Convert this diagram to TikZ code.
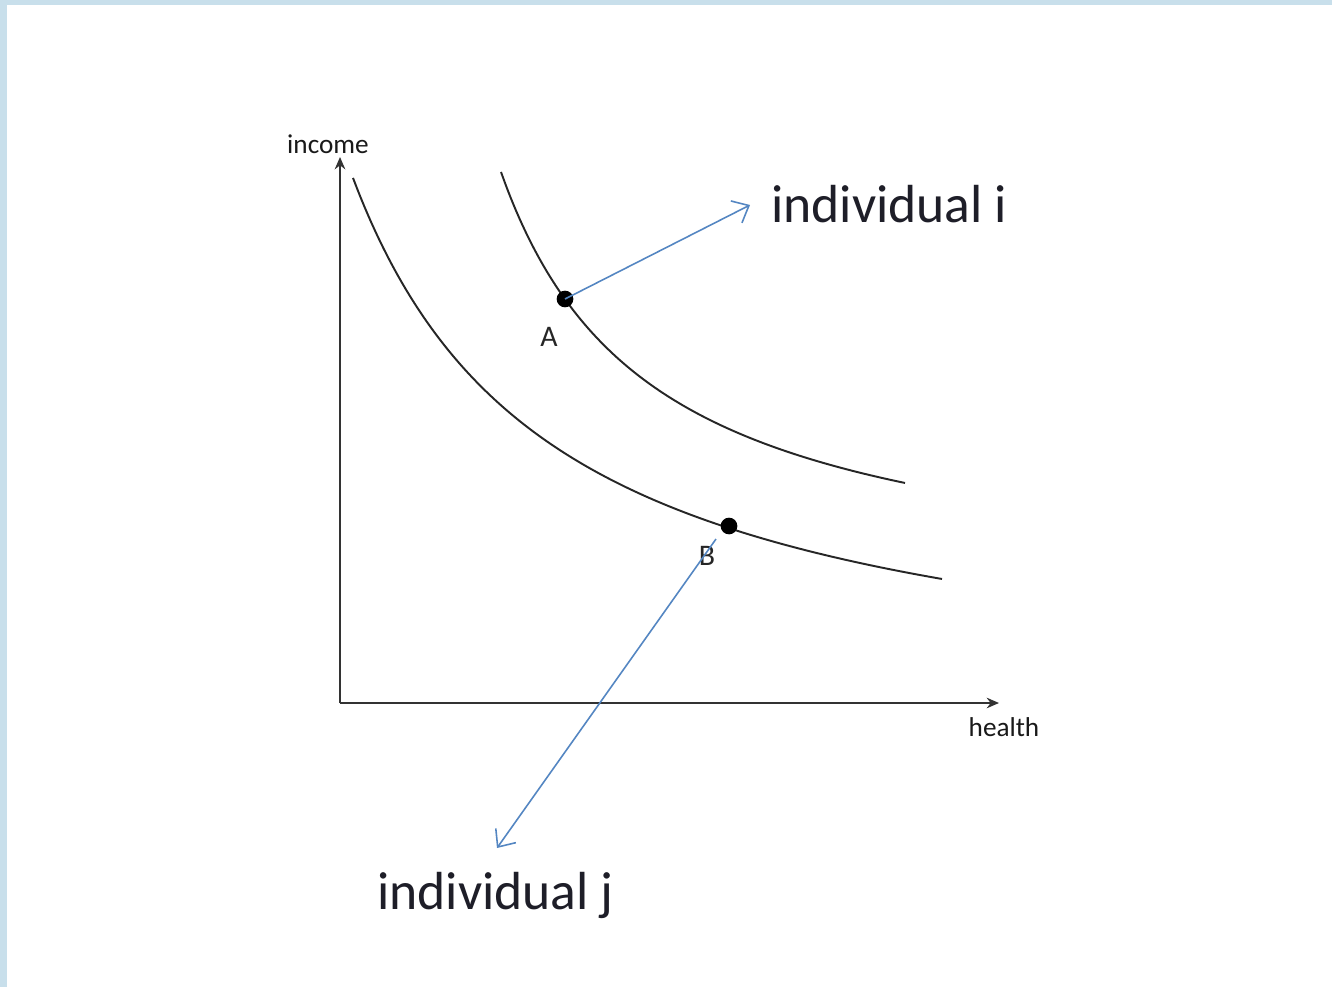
\documentclass[tikz,border=0pt]{standalone}
\usepackage{fontspec}
\setmainfont{Carlito}
\usetikzlibrary{arrows.meta}
\definecolor{frameblue}{RGB}{200,223,235}
\definecolor{arrowblue}{RGB}{84,134,194}
\definecolor{inktext}{RGB}{30,30,40}
\tikzset{
  axis/.style={line width=1.5pt, black!80, -{Stealth[length=7pt,width=6pt]}},
  icurve/.style={line width=1.1pt, black!85},
  dotpt/.style={circle, fill=black, inner sep=0pt, minimum size=9.5pt},
  bluearrow/.style={line width=0.9pt, arrowblue, -{Straight Barb[length=8pt,width=14pt,line width=0.9pt]}},
  axlabel/.style={font=\fontsize{15.5}{18}\selectfont, text=black!90, inner sep=0pt},
  ptlabel/.style={font=\fontsize{17}{20}\selectfont, text=black!85, inner sep=0pt},
  biglabel/.style={font=\fontsize{30.5}{36}\selectfont, text=inktext, inner sep=0pt, anchor=base west}
}
\begin{document}
\begin{tikzpicture}[x=0.02cm, y=-0.02cm]
\useasboundingbox (0,0) rectangle (1332,987);
\fill[white] (0,0) rectangle (1332,987);
\fill[frameblue] (0,0) rectangle (1332,5);
\fill[frameblue] (0,0) rectangle (7,987);

% axes
\coordinate (O) at (340,703);
\coordinate (ytop) at (340,157);
\coordinate (xend) at (999,703);
\draw[axis] (O) -- (ytop);
\draw[axis] (O) -- (xend);
\node[axlabel] (income) at (328,144) {income};
\node[axlabel] (health) at (1004,727) {health};

% indifference curves
\draw[icurve] plot[domain=501:905, samples=80, smooth] (\x, {599.2 - 645.10/((\x-350)/100)});
\draw[icurve] plot[domain=353:942, samples=100, smooth] (\x, {717.2 - 1094.74/((\x-150)/100)});

% points
\node[dotpt] (A) at (565,299) {};
\node[dotpt] (B) at (729,526) {};
\node[ptlabel] (Alab) at (549,337) {A};
\node[ptlabel] (Blab) at (707,556) {B};

% labels
\node[biglabel] (indi) at (771,222) {individual i};
\node[biglabel] (indj) at (377,909) {individual j};

% blue arrows
\coordinate (iend) at (750,205);
\coordinate (jstart) at (716,539);
\coordinate (jend) at (497,848);
\draw[bluearrow] (A.center) -- (iend);
\draw[bluearrow] (jstart) -- (jend);
\end{tikzpicture}
\end{document}
